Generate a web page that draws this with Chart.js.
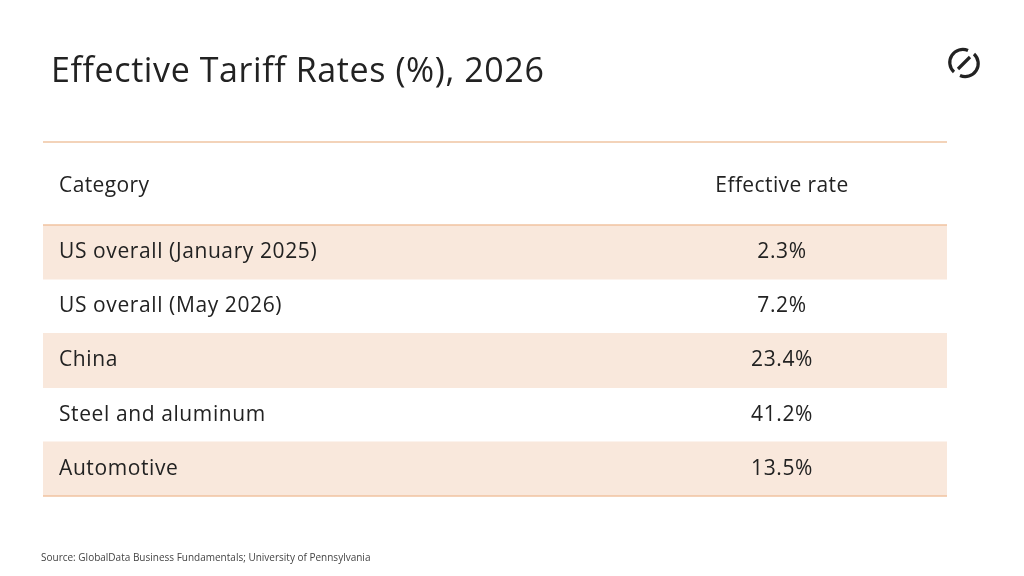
<!DOCTYPE html>
<html><head><meta charset="utf-8">
<script src="https://cdn.jsdelivr.net/npm/chart.js@4"></script>
<style>
html,body{margin:0;padding:0;background:#fff;width:1024px;height:576px;overflow:hidden;font-family:"Open Sans",sans-serif;color:#222}
#wrap{position:absolute;left:0;top:0;width:1024px;height:576px}
.t{position:absolute;white-space:nowrap}
</style></head><body>
<div id="wrap"><canvas id="c" width="1024" height="576"></canvas></div>
<div class="t" style="left:51px;top:46px;font-size:34px;letter-spacing:0.6px;color:#222">Effective Tariff Rates (%), 2026</div>
<svg style="position:absolute;left:946px;top:45px" width="36" height="36" viewBox="0 0 36 36">
<path d="M 8 27 A 13 13 0 0 1 22 5.5" fill="none" stroke="#222" stroke-width="3.2"/>
<path d="M 28 9 A 13 13 0 0 1 14 30.5" fill="none" stroke="#222" stroke-width="3.2"/>
<line x1="12" y1="24" x2="24" y2="12" stroke="#222" stroke-width="3.2"/>
</svg>
<div style="position:absolute;left:43px;top:141px;width:904px;height:2px;background:#f3d3b9"></div>
<div class="t" style="left:59px;top:170px;font-size:21px;letter-spacing:0.4px">Category</div>
<div class="t" style="left:782px;top:170px;font-size:21px;letter-spacing:0.4px;transform:translateX(-50%)">Effective rate</div>
<div class="t" style="left:41px;top:550px;font-size:10px;color:#444">Source: GlobalData Business Fundamentals; University of Pennsylvania</div>
<script>
const categories=["US overall (January 2025)","US overall (May 2026)","China","Steel and aluminum","Automotive"];
const rates=[2.3,7.2,23.4,41.2,13.5];
const rateLabels=rates.map(v=>v.toFixed(1)+"%");
const shade="#f9e8dc", line="#f1c3a0";
const textPlugin={id:"cells",afterDatasetsDraw(ch){
  const {ctx,chartArea:a,scales:{y}}=ch;
  ctx.save();
  ctx.fillStyle="#222";ctx.font='21px "Open Sans"';ctx.textBaseline="middle";
  try{ctx.letterSpacing="0.6px";}catch(e){}
  categories.forEach((c,i)=>{const py=y.getPixelForValue(i);
    ctx.textAlign="left";ctx.fillText(c,59,py);
    ctx.textAlign="center";ctx.fillText(rateLabels[i],782,py);});
  ctx.strokeStyle=line;ctx.lineWidth=1.5;
  [a.top,a.bottom].forEach(yy=>{ctx.beginPath();ctx.moveTo(a.left,yy);ctx.lineTo(a.right,yy);ctx.stroke();});
  ctx.restore();}};
new Chart(document.getElementById("c"),{type:"bar",
 data:{labels:categories,datasets:[{data:categories.map(()=>1),
   backgroundColor:categories.map((_,i)=>i%2===0?shade:"rgba(0,0,0,0)"),
   barPercentage:1,categoryPercentage:1,borderWidth:0}]},
 options:{indexAxis:"y",responsive:false,animation:false,
  layout:{padding:{left:43,right:77,top:225,bottom:80}},
  plugins:{legend:{display:false},tooltip:{enabled:false}},
  scales:{x:{display:false,min:0,max:1},y:{display:false}}},
 plugins:[textPlugin]});
</script></body></html>
